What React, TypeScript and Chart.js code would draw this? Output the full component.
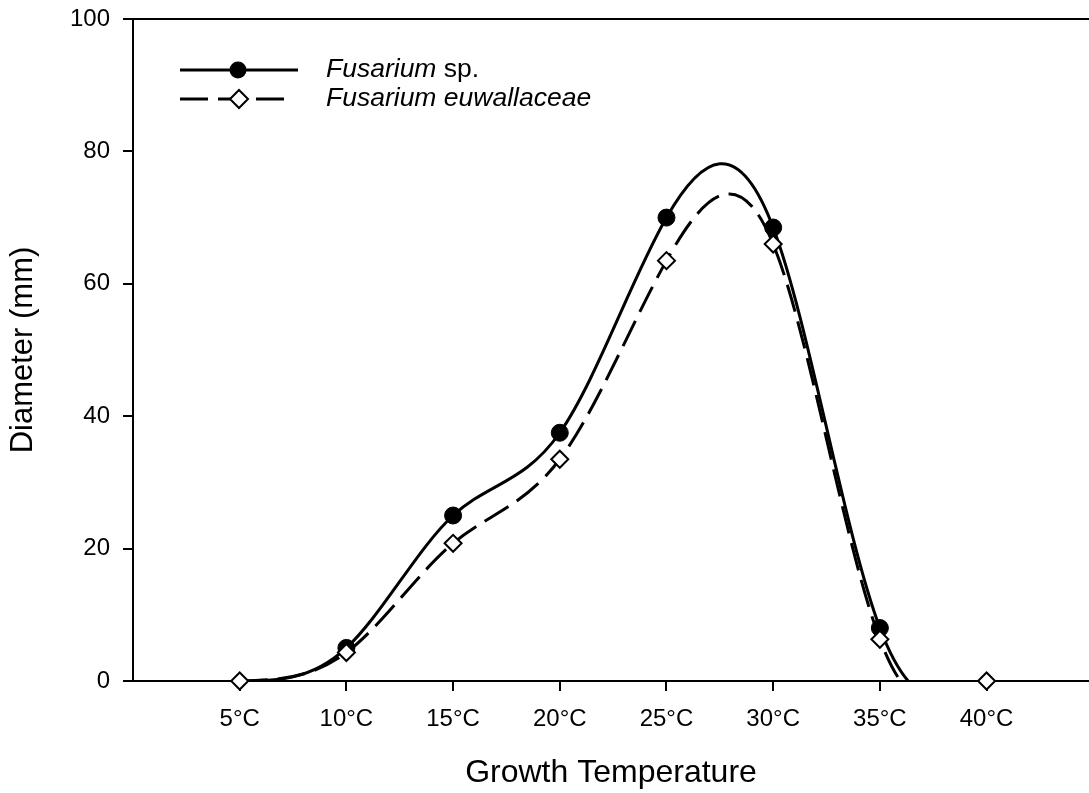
import React, { useEffect, useRef } from "react";
import { Chart, registerables } from "chart.js";

Chart.register(...registerables);

// ---- data ----
const temperatures = [5, 10, 15, 20, 25, 30, 35, 40];
const fusariumSp = [0, 5, 25, 37.5, 70, 68.5, 8, 0];
const fusariumEuwallaceae = [0, 4.3, 20.8, 33.5, 63.5, 66, 6.3, 0];
const yTickValues = [0, 20, 40, 60, 80, 100];
const seriesNames = ["Fusarium sp.", "Fusarium euwallaceae"];
const xTitle = "Growth Temperature";
const yTitle = "Diameter (mm)";

const FONT = "'Liberation Sans', Arial, Helvetica, sans-serif";
const W = 1089;
const H = 793;

// Natural cubic spline through the line's own (scale-projected) points,
// expressed as Bezier control points on the Chart.js point elements.
const naturalSplinePlugin = {
  id: "naturalSpline",
  beforeDatasetDraw(chart: any, args: any) {
    const meta = args.meta;
    const ds = chart.data.datasets[args.index];
    if (!ds || !ds.naturalSpline || !meta.dataset) return;
    meta.dataset.updateControlPoints(chart.chartArea, "x");
    const pts = meta.data;
    const n = pts.length;
    if (n < 3) return;
    const xs = pts.map((p: any) => p.x);
    const ys = pts.map((p: any) => p.y);
    const h: number[] = [];
    for (let i = 0; i < n - 1; i++) h.push(xs[i + 1] - xs[i]);
    const M = new Array(n).fill(0);
    const a: number[] = [], b: number[] = [], c: number[] = [], d: number[] = [];
    for (let i = 1; i < n - 1; i++) {
      a.push(h[i - 1]);
      b.push(2 * (h[i - 1] + h[i]));
      c.push(h[i]);
      d.push(6 * ((ys[i + 1] - ys[i]) / h[i] - (ys[i] - ys[i - 1]) / h[i - 1]));
    }
    const m = b.length;
    const cp: number[] = new Array(m).fill(0);
    const dp: number[] = new Array(m).fill(0);
    for (let i = 0; i < m; i++) {
      const denom = b[i] - (i > 0 ? a[i] * cp[i - 1] : 0);
      cp[i] = c[i] / denom;
      dp[i] = (d[i] - (i > 0 ? a[i] * dp[i - 1] : 0)) / denom;
    }
    for (let i = m - 1; i >= 0; i--) {
      M[i + 1] = dp[i] - (i < m - 1 ? cp[i] * M[i + 2] : 0);
    }
    const slope: number[] = [];
    for (let i = 0; i < n; i++) {
      if (i < n - 1) {
        slope.push((ys[i + 1] - ys[i]) / h[i] - (h[i] * (2 * M[i] + M[i + 1])) / 6);
      } else {
        slope.push((ys[i] - ys[i - 1]) / h[i - 1] + (h[i - 1] * (M[i - 1] + 2 * M[i])) / 6);
      }
    }
    for (let i = 0; i < n; i++) {
      const p = pts[i];
      if (i > 0) {
        const hh = h[i - 1];
        p.cp1x = xs[i] - hh / 3;
        p.cp1y = ys[i] - (slope[i] * hh) / 3;
      } else {
        p.cp1x = xs[i];
        p.cp1y = ys[i];
      }
      if (i < n - 1) {
        const hh = h[i];
        p.cp2x = xs[i] + hh / 3;
        p.cp2y = ys[i] + (slope[i] * hh) / 3;
      } else {
        p.cp2x = xs[i];
        p.cp2y = ys[i];
      }
    }
    meta.dataset._path = undefined;
  },
};

const legendPlugin = {
  id: "customLegend",
  afterDraw(chart: any) {
    const ctx = chart.ctx as CanvasRenderingContext2D;
    const area = chart.chartArea;
    ctx.save();
    // top frame line
    ctx.strokeStyle = "#000";
    ctx.lineWidth = 2;
    ctx.beginPath();
    ctx.moveTo(area.left - 1, area.top);
    ctx.lineTo(area.right, area.top);
    ctx.stroke();

    const y1 = 70;
    const y2 = 99;
    // row 1: solid line + filled circle
    ctx.lineWidth = 3;
    ctx.setLineDash([]);
    ctx.beginPath();
    ctx.moveTo(180, y1);
    ctx.lineTo(298, y1);
    ctx.stroke();
    ctx.fillStyle = "#000";
    ctx.beginPath();
    ctx.arc(238, y1, 8.5, 0, Math.PI * 2);
    ctx.fill();

    // row 2: dashed line + open diamond
    ctx.setLineDash([28, 10]);
    ctx.beginPath();
    ctx.moveTo(180, y2);
    ctx.lineTo(285, y2);
    ctx.stroke();
    ctx.setLineDash([]);
    ctx.lineWidth = 2;
    ctx.fillStyle = "#fff";
    const r = 9;
    ctx.beginPath();
    ctx.moveTo(239, y2 - r);
    ctx.lineTo(239 + r, y2);
    ctx.lineTo(239, y2 + r);
    ctx.lineTo(239 - r, y2);
    ctx.closePath();
    ctx.fill();
    ctx.stroke();

    // text
    ctx.fillStyle = "#000";
    ctx.textBaseline = "middle";
    ctx.textAlign = "left";
    const tx = 326;
    const parts = seriesNames[0].split(" ");
    const genus1 = parts[0];
    const rest1 = " " + parts.slice(1).join(" ");
    ctx.font = `italic 26.5px ${FONT}`;
    ctx.fillText(genus1, tx, y1);
    const w1 = ctx.measureText(genus1).width;
    ctx.font = `26.5px ${FONT}`;
    ctx.fillText(rest1, tx + w1, y1);
    ctx.font = `italic 26.5px ${FONT}`;
    ctx.fillText(seriesNames[1], tx, y2);
    ctx.restore();
  },
};

export default function App() {
  const canvasRef = useRef<HTMLCanvasElement | null>(null);

  useEffect(() => {
    if (!canvasRef.current) return;
    Chart.defaults.font.family = FONT;
    Chart.defaults.color = "#000";

    const spPoints = temperatures.map((t, i) => ({ x: t, y: fusariumSp[i] }));
    const euPoints = temperatures.map((t, i) => ({ x: t, y: fusariumEuwallaceae[i] }));
    const lastIdx = temperatures.length - 1;

    const chart = new Chart(canvasRef.current, {
      type: "line",
      data: {
        datasets: [
          {
            label: seriesNames[1] + " markers",
            data: euPoints,
            showLine: false,
            pointStyle: "rectRot",
            pointRadius: 8.5,
            pointBorderWidth: 2,
            pointBackgroundColor: "#fff",
            pointBorderColor: "#000",
            clip: false as any,
            order: 0,
          },
          {
            label: seriesNames[0] + " markers",
            data: spPoints,
            showLine: false,
            pointStyle: "circle",
            pointRadius: (c: any) => (c.dataIndex === 0 || c.dataIndex === lastIdx ? 0 : 8.5),
            pointBorderWidth: 1,
            pointBackgroundColor: "#000",
            pointBorderColor: "#000",
            clip: false as any,
            order: 1,
          },
          {
            label: seriesNames[1],
            data: euPoints,
            naturalSpline: true,
            borderColor: "#000",
            borderWidth: 3,
            borderDash: [28, 10],
            pointRadius: 0,
            tension: 0.4,
            fill: false,
            clip: { left: 0, top: 0, right: 0, bottom: 0 } as any,
            order: 2,
          },
          {
            label: seriesNames[0],
            data: spPoints,
            naturalSpline: true,
            borderColor: "#000",
            borderWidth: 3,
            pointRadius: 0,
            tension: 0.4,
            fill: false,
            clip: { left: 0, top: 0, right: 0, bottom: 0 } as any,
            order: 3,
          },
        ],
      },
      options: {
        responsive: false,
        animation: false,
        events: [],
        layout: { autoPadding: false, padding: { top: 19, right: 0, bottom: 0, left: 0 } },
        plugins: {
          legend: { display: false },
          tooltip: { enabled: false },
        },
        scales: {
          x: {
            type: "linear",
            min: 0,
            max: 44.8,
            afterBuildTicks: (scale: any) => {
              scale.ticks = temperatures.map((v) => ({ value: v }));
            },
            afterFit: (scale: any) => {
              scale.height = 112;
              scale.paddingLeft = 0;
              scale.paddingRight = 0;
              scale.paddingTop = 0;
              scale.paddingBottom = 0;
            },
            ticks: {
              font: { size: 24 },
              color: "#000",
              padding: 14,
              maxRotation: 0,
              autoSkip: false,
              callback: (v: any) => `${v}°C`,
            },
            grid: {
              drawOnChartArea: false,
              drawTicks: true,
              tickLength: 10,
              color: "#000",
              lineWidth: 2,
            },
            border: { display: true, color: "#000", width: 2 },
            title: {
              display: true,
              text: xTitle,
              font: { size: 32 },
              color: "#000",
              padding: { top: 0, bottom: 1 },
            },
          },
          y: {
            type: "linear",
            min: 0,
            max: 100,
            afterBuildTicks: (scale: any) => {
              scale.ticks = yTickValues.map((v) => ({ value: v }));
            },
            afterFit: (scale: any) => {
              scale.width = 133;
              scale.paddingLeft = 0;
              scale.paddingRight = 0;
              scale.paddingTop = 0;
              scale.paddingBottom = 0;
            },
            ticks: {
              font: { size: 24 },
              color: "#000",
              padding: 13,
            },
            grid: {
              drawOnChartArea: false,
              drawTicks: true,
              tickLength: 10,
              color: "#000",
              lineWidth: 2,
            },
            border: { display: true, color: "#000", width: 2 },
            title: {
              display: true,
              text: yTitle,
              font: { size: 31 },
              color: "#000",
              padding: { top: 5, bottom: 0 },
            },
          },
        },
      },
      plugins: [naturalSplinePlugin, legendPlugin],
    } as any);

    return () => chart.destroy();
  }, []);

  return (
    <div style={{ position: "absolute", left: 0, top: 0, width: W, height: H, background: "#fff" }}>
      <canvas ref={canvasRef} width={W} height={H} style={{ width: W, height: H, display: "block" }} />
    </div>
  );
}
